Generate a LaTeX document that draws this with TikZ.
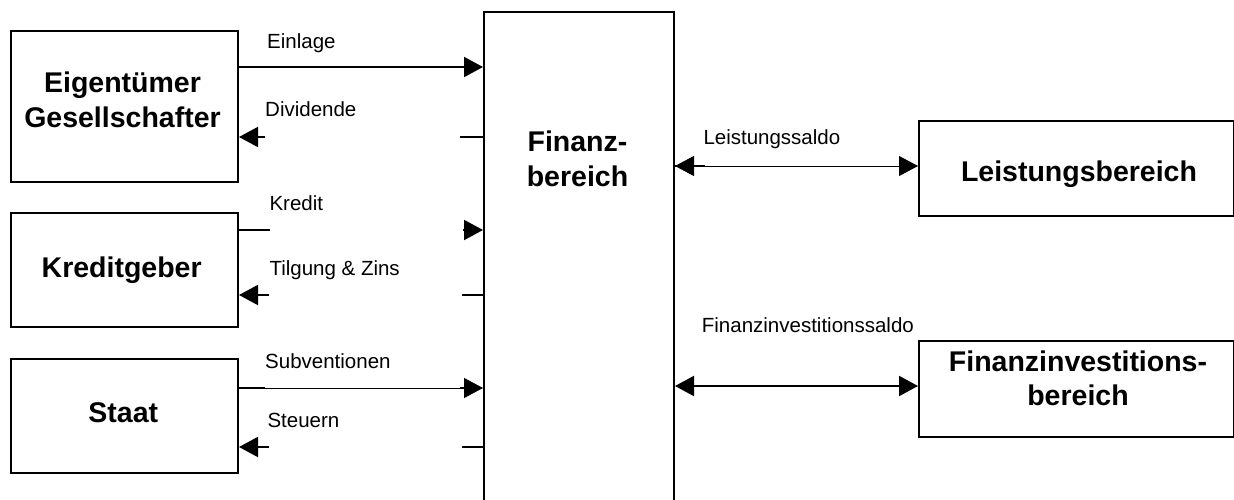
\documentclass[tikz,border=0pt]{standalone}
\usepackage{fontspec}
\setmainfont{Liberation Sans}
\usetikzlibrary{arrows.meta}
\begin{document}
\begin{tikzpicture}[x=1pt,y=-1pt,
  box/.style={draw,line width=2pt,inner sep=0pt,anchor=north west},
  btxt/.style={font=\fontsize{28.5}{35}\bfseries\selectfont,align=center,inner sep=0pt},
  lab/.style={font=\fontsize{20.5}{24}\selectfont,anchor=base west,inner sep=0pt},
  thk/.style={line width=2pt},
  thn/.style={line width=0.8pt},
  tip/.style={-{Triangle[length=19pt,width=20pt]}},
  tipb/.style={{Triangle[length=19pt,width=20pt]}-{Triangle[length=19pt,width=20pt]}},
  tipr/.style={{Triangle[length=19pt,width=20pt]}-}]
\useasboundingbox (0,0) rectangle (1234,500);
% boxes
\node[box,minimum width=227pt,minimum height=151pt] (E) at (10,30) {};
\node[box,minimum width=227pt,minimum height=114pt] (K) at (10,212) {};
\node[box,minimum width=227pt,minimum height=114pt] (S) at (10,358) {};
\node[box,minimum width=190pt,minimum height=520pt] (F) at (483,11) {};
\node[box,minimum width=315pt,minimum height=95pt] (L) at (918,120) {};
\node[box,minimum width=315pt,minimum height=96pt] (I) at (918,340) {};
% box texts
\node[btxt] (Et) at (122.5,100.3) {Eigentümer\\Gesellschafter};
\node[btxt,anchor=base] (Kt) at (121.7,277) {Kreditgeber};
\node[btxt,anchor=base] (St) at (123.3,422.7) {Staat};
\node[btxt] (Ft) at (577.5,159.2) {Finanz-\\bereich};
\node[btxt,anchor=base] (Lt) at (1079,181.7) {Leistungsbereich};
\node[btxt,font=\fontsize{28.5}{33.3}\bfseries\selectfont] (It) at (1078,378.2) {Finanzinvestitions-\\bereich};
% levels
\coordinate (yEin) at (0,67);
\coordinate (yDiv) at (0,137);
\coordinate (yKre) at (0,230);
\coordinate (yTil) at (0,295);
\coordinate (ySub) at (0,388);
\coordinate (ySte) at (0,447);
\coordinate (yLei) at (0,166);
\coordinate (yFin) at (0,386);
% Einlage
\draw[thk,tip] (E.east |- yEin) -- (F.west |- yEin);
% Dividende
\draw[thk,tipr] (E.east |- yDiv) -- ++(26,0);
\draw[thk] (F.west |- yDiv) -- ++(-23,0);
% Kredit
\draw[thk] (K.east |- yKre) -- ++(31,0);
\draw[thk,tip] ([xshift=-20pt]F.west |- yKre) -- (F.west |- yKre);
% Tilgung & Zins
\draw[thk,tipr] (K.east |- yTil) -- ++(30,0);
\draw[thk] (F.west |- yTil) -- ++(-21,0);
% Subventionen
\draw[thn,tip] (S.east |- ySub) -- (F.west |- ySub);
\draw[thk] (S.east |- ySub) -- ++(26,0);
\draw[thk] ([xshift=-23pt]F.west |- ySub) -- ++(8,0);
% Steuern
\draw[thk,tipr] (S.east |- ySte) -- ++(30,0);
\draw[thk] (F.west |- ySte) -- ++(-21,0);
% Leistungssaldo
\draw[thn,tipb] (F.east |- yLei) -- (L.west |- yLei);
\draw[thk] (F.east |- yLei) -- ++(30,0);
% Finanzinvestitionssaldo
\draw[thk,tipb] (F.east |- yFin) -- (I.west |- yFin);
% labels
\node[lab] (l1) at (267,49) {Einlage};
\node[lab] (l2) at (265,116.7) {Dividende};
\node[lab] (l3) at (269.3,210.7) {Kredit};
\node[lab] (l4) at (269.3,275) {Tilgung \& Zins};
\node[lab] (l5) at (265,368.3) {Subventionen};
\node[lab] (l6) at (267.3,427.7) {Steuern};
\node[lab] (l7) at (703.3,145) {Leistungssaldo};
\node[lab] (l8) at (701.7,332.3) {Finanzinvestitionssaldo};
\end{tikzpicture}
\end{document}
